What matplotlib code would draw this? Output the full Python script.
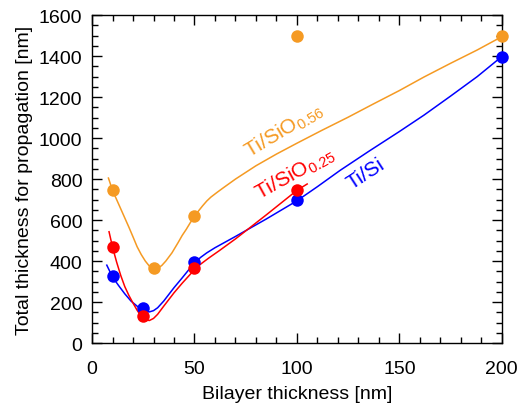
#!/usr/bin/env python3

import matplotlib

matplotlib.use("Agg")
import matplotlib.pyplot as plt
from matplotlib.ticker import MultipleLocator

plt.rcParams["font.family"] = ["Liberation Sans", "DejaVu Sans"]
plt.rcParams["mathtext.fontset"] = "custom"
plt.rcParams["mathtext.rm"] = "Liberation Sans"
plt.rcParams["mathtext.it"] = "Liberation Sans"

# measured points
bilayer_si = [10, 25, 50, 100, 200]
total_si = [325, 170, 395, 697, 1398]
bilayer_o25 = [10, 25, 50, 100]
total_o25 = [470, 130, 367, 745]
bilayer_o56 = [10, 30, 50, 100, 200]
total_o56 = [745, 368, 620, 1497, 1497]

# fitted curves
fit_x_si = [7.2, 10, 13, 16, 19, 22, 24, 26, 28, 30, 32, 35, 40, 44, 47, 50, 53, 56, 60, 70,
            85, 100, 110, 121, 135, 150, 162, 175, 188, 200]
fit_y_si = [380, 322, 280, 240, 205, 180, 165, 155, 152, 158, 172, 205, 270, 318, 355, 390, 418, 440, 465, 520,
            605, 694, 763, 842, 935, 1032, 1112, 1205, 1300, 1398]
fit_x_o25 = [8.3, 10, 12, 14, 16, 18, 20, 22, 24, 26, 28, 30, 32, 35, 40, 44, 47, 50, 53, 57, 62, 70,
             85, 100, 105]
fit_y_o25 = [543, 468, 395, 330, 275, 232, 195, 160, 130, 113, 110, 120, 140, 180, 245, 292, 325, 358, 385, 415, 450, 508,
             625, 745, 776]
fit_x_o56 = [8, 10, 12, 14, 16, 18, 20, 22, 24, 26, 28, 30, 32, 34, 36, 39, 42, 44, 46, 48, 50, 52, 54, 56,
             58, 61, 64, 70, 80, 90, 100, 112, 125, 137, 150, 162, 175, 188, 200]
fit_y_o56 = [805, 745, 700, 655, 610, 565, 518, 470, 432, 400, 375, 363, 365, 378, 400, 440, 490, 525, 555, 588, 617, 645,
             670, 693, 712, 735, 757, 800, 865, 922, 975, 1037, 1102, 1165, 1232, 1298, 1365, 1430, 1495]

BLUE = "#0000ff"
RED = "#ff0000"
ORANGE = "#f59a23"

fig = plt.figure(figsize=(5.2, 4.14), dpi=100)
ax = fig.add_axes([0.177, 0.169, 0.788, 0.792])

for fx, fy, px, py, color in (
    (fit_x_o56, fit_y_o56, bilayer_o56, total_o56, ORANGE),
    (fit_x_si, fit_y_si, bilayer_si, total_si, BLUE),
    (fit_x_o25, fit_y_o25, bilayer_o25, total_o25, RED),
):
    ax.plot(fx, fy, color=color, linewidth=1.1, zorder=2)
    ax.plot(px, py, "o", color=color, markersize=9, markeredgewidth=0, zorder=3, clip_on=False)

ax.text(93.5, 1040, "Ti/SiO$_{0.56}$", color=ORANGE, fontsize=15, rotation=31,
        ha="center", va="center")
ax.text(99, 829, "Ti/SiO$_{0.25}$", color=RED, fontsize=15, rotation=29,
        ha="center", va="center")
ax.text(133.7, 829, "Ti/Si", color=BLUE, fontsize=15, rotation=33,
        ha="center", va="center")

ax.set_xlim(0, 200)
ax.set_ylim(0, 1600)
ax.xaxis.set_major_locator(MultipleLocator(50))
ax.xaxis.set_minor_locator(MultipleLocator(10))
ax.yaxis.set_major_locator(MultipleLocator(200))
ax.yaxis.set_minor_locator(MultipleLocator(50))
ax.tick_params(which="both", direction="in", top=True, right=True, labelsize=14, width=1)
ax.tick_params(which="major", length=7)
ax.tick_params(which="minor", length=4)
ax.tick_params(axis="x", which="major", pad=12)
ax.tick_params(axis="y", which="major", pad=7)
for spine in ax.spines.values():
    spine.set_linewidth(1)

ax.set_xlabel("Bilayer thickness [nm]", fontsize=14, labelpad=6)
ax.set_ylabel("Total thickness for propagation [nm]", fontsize=14, labelpad=4)

fig.savefig("out.png", dpi=100)
